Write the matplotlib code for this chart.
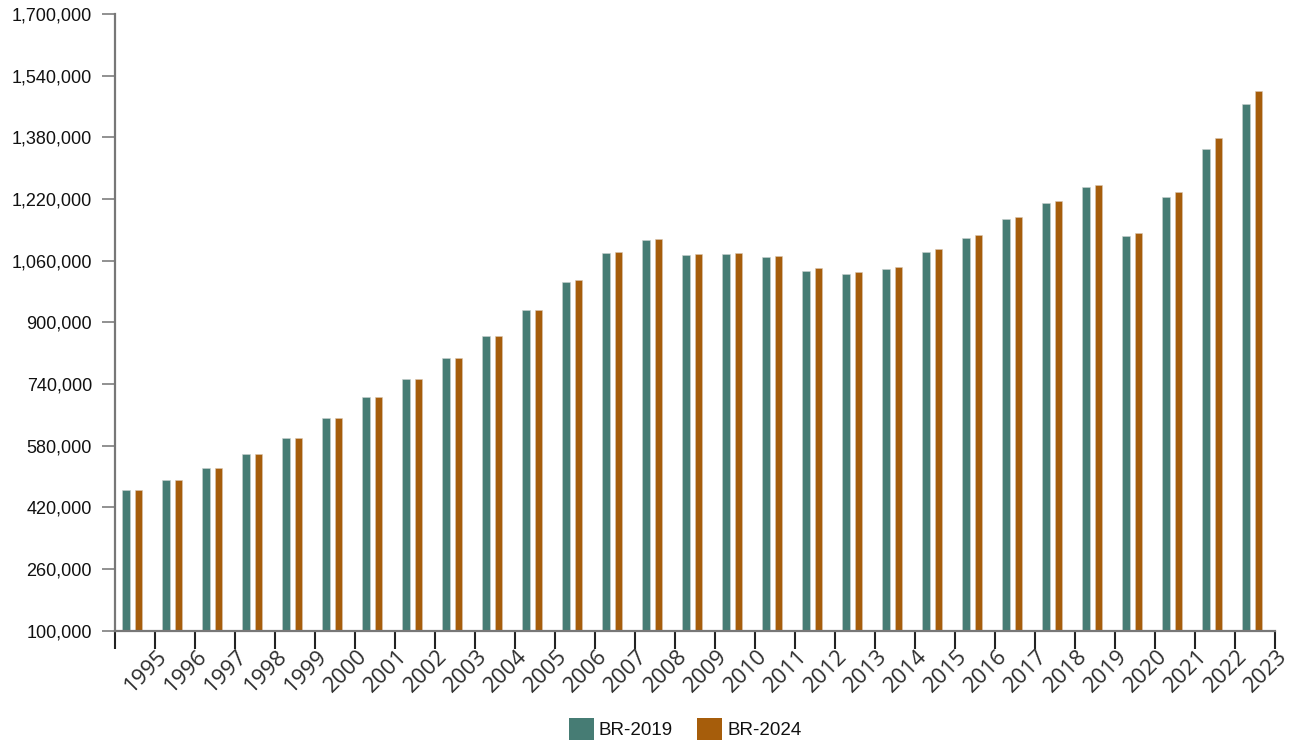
import matplotlib
matplotlib.use("Agg")
import matplotlib.pyplot as plt
from matplotlib.ticker import FuncFormatter, FixedLocator
from matplotlib.transforms import ScaledTranslation
import numpy as np

years = [str(y) for y in range(1995, 2024)]
br2019 = [465000, 491000, 522000, 559000, 600000, 652000, 705000, 752000, 806000, 864000,
          932000, 1005000, 1079000, 1113500, 1074000, 1078000, 1068500, 1034000, 1025000, 1037000,
          1083000, 1119000, 1167000, 1209000, 1250000, 1124000, 1225000, 1349000, 1466000]
br2024 = [465000, 491000, 522000, 559000, 600000, 652000, 705000, 752000, 806000, 864000,
          932000, 1010000, 1081500, 1115000, 1078000, 1080500, 1072500, 1039500, 1030000, 1043000,
          1090000, 1126000, 1172000, 1215500, 1257500, 1132000, 1239000, 1378000, 1501000]
series_names = ["BR-2019", "BR-2024"]
yticks = list(range(100000, 1700001, 160000))

c19 = "#467c74"
c24 = "#a65d0b"

fig = plt.figure(figsize=(12.95, 7.42), dpi=100)
ax = fig.add_axes([115/1295, 1-630.5/742, (1275-115)/1295, (630.5-14)/742])

x = np.arange(len(years))
w = 0.19
ax.bar(x - 0.225, br2019, width=w, color=c19, edgecolor="#c9cfcd", linewidth=0.4, label=series_names[0])
ax.bar(x + 0.083, br2024, width=w, color=c24, edgecolor="#d9c7b3", linewidth=0.4, label=series_names[1])

ax.set_xlim(-0.5, len(years) - 0.5)
ax.set_ylim(100000, 1700000)

for s in ["top", "right"]:
    ax.spines[s].set_visible(False)
for s in ["left", "bottom"]:
    ax.spines[s].set_color("#777777")
    ax.spines[s].set_linewidth(1.6)

ax.yaxis.set_major_locator(FixedLocator(yticks))
ax.yaxis.set_major_formatter(FuncFormatter(lambda v, p: f"{int(v):,}"))
ax.tick_params(axis="y", length=9.5, width=1.3, color="#888888", pad=7,
               labelsize=13, labelcolor="#111111")
for lab in ax.get_yticklabels():
    lab.set_fontfamily("Liberation Sans")

xt = [-0.5] + [i + 0.5 for i in range(len(years))]
ax.set_xticks(xt)
ax.set_xticklabels([""] + years)
ax.tick_params(axis="x", length=13.3, width=1.5, color="#222222", pad=0,
               labelsize=16, labelcolor="#2e2e2e")
off = ScaledTranslation(2/100, 3/100, fig.dpi_scale_trans)
for lab in ax.get_xticklabels():
    lab.set_rotation(45)
    lab.set_ha("right")
    lab.set_va("top")
    lab.set_rotation_mode("anchor")
    lab.set_fontfamily("Open Sans")
    lab.set_transform(lab.get_transform() + off)

leg = fig.legend(loc="center", bbox_to_anchor=(685/1295, 1-729/742), ncol=2, frameon=False,
                 prop={"family": "Liberation Sans", "size": 13.5},
                 handlelength=1.35, handleheight=1.35, handletextpad=0.25,
                 columnspacing=1.3, borderpad=0, borderaxespad=0)
for h in leg.legend_handles:
    h.set_edgecolor("none")
for t in leg.get_texts():
    t.set_color("#111111")

fig.savefig("out.png", dpi=100)
